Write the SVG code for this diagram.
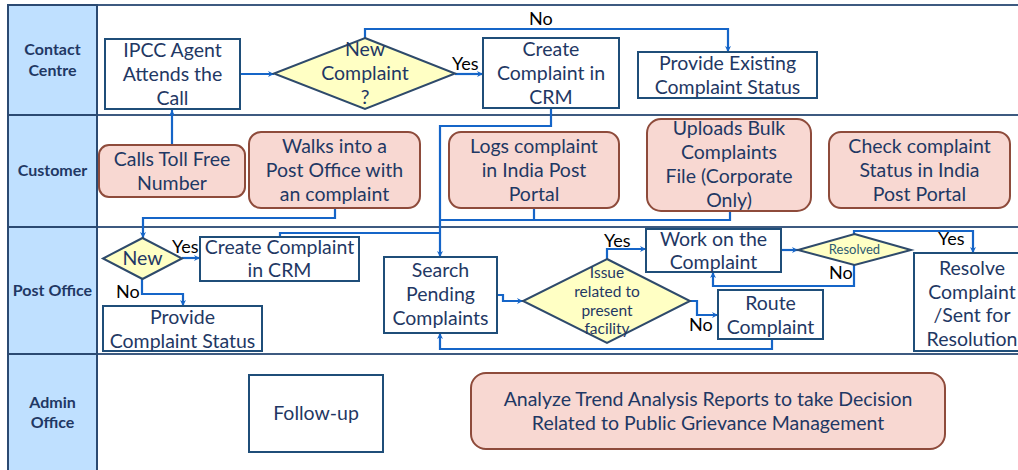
<svg xmlns="http://www.w3.org/2000/svg" width="1018" height="470" viewBox="0 0 1018 470">
  <style>
    .lane { fill: #ffffff; stroke: #3d5a80; stroke-width: 2; }
    .head { fill: #bfe0ff; stroke: #2b4a72; stroke-width: 2; }
    .lanetxt { font-family: Lato, "Liberation Sans", sans-serif; font-weight: bold; font-size: 16px; fill: #1f3864; text-anchor: middle; }
    .box { fill: #ffffff; stroke: #1f4e79; stroke-width: 2; }
    .cust { fill: #f8d8d2; stroke: #8e4b3b; stroke-width: 2; }
    .dia { fill: #ffffc4; stroke: #2e4a6b; stroke-width: 2; }
    .t { font-family: Lato, "Liberation Sans", sans-serif; font-size: 19.5px; fill: #1f3864; text-anchor: middle; }
    .ts { font-family: Lato, "Liberation Sans", sans-serif; font-size: 15.5px; fill: #1f3864; text-anchor: middle; }
    .tr { font-family: Lato, "Liberation Sans", sans-serif; font-size: 13px; fill: #2e5a70; text-anchor: middle; }
    .lbl { font-family: Lato, "Liberation Sans", sans-serif; font-size: 18px; fill: #000000; }
    .conn { fill: none; stroke: #1565c8; stroke-width: 2.2; }
    .arr { marker-end: url(#ah); }
  </style>
  <defs>
    <marker id="ah" viewBox="0 0 10 10" refX="10" refY="5" markerWidth="6" markerHeight="6" orient="auto" markerUnits="userSpaceOnUse">
      <path d="M0,0 L10,5 L0,10 L3,5 z" fill="#1565c8"/>
    </marker>
  </defs>

  <!-- swimlanes -->
  <g id="lanes">
    <rect class="lane" x="8" y="5" width="1020" height="110"/>
    <rect class="lane" x="8" y="115" width="1020" height="112"/>
    <rect class="lane" x="8" y="227" width="1020" height="127"/>
    <rect class="lane" x="8" y="354" width="1020" height="130"/>
    <rect class="head" x="8" y="5" width="89" height="479"/>
    <line x1="8" y1="115" x2="97" y2="115" stroke="#2b4a72" stroke-width="2"/>
    <line x1="8" y1="227" x2="97" y2="227" stroke="#2b4a72" stroke-width="2"/>
    <line x1="8" y1="354" x2="97" y2="354" stroke="#2b4a72" stroke-width="2"/>
    <text class="lanetxt" x="52.5" y="55">Contact</text>
    <text class="lanetxt" x="52.5" y="76">Centre</text>
    <text class="lanetxt" x="52.5" y="176">Customer</text>
    <text class="lanetxt" x="52.5" y="296">Post Office</text>
    <text class="lanetxt" x="52.5" y="408">Admin</text>
    <text class="lanetxt" x="52.5" y="428">Office</text>
  </g>

  <!-- connectors -->
  <g id="connectors">
    <path class="conn arr" d="M172,145 V110"/>
    <path class="conn arr" d="M240,74 H274"/>
    <path class="conn arr" d="M455,74 H483"/>
    <path class="conn arr" d="M365,38 V29 H728 V52"/>
    <path class="conn arr" d="M551,108 V126 H440 V257"/>
    <path class="conn" d="M534,208 V220 H440"/>
    <path class="conn" d="M730,211 V220 H534"/>
    <path class="conn arr" d="M335,208 V218 H143 V238"/>
    <path class="conn arr" d="M182,258 H200"/>
    <path class="conn arr" d="M142,279 V294 H183 V306"/>
    <path class="conn" d="M280,237 V233 H440"/>
    <path class="conn arr" d="M497,295 H503 V301 H523"/>
    <path class="conn arr" d="M607,259 V249 H646"/>
    <path class="conn arr" d="M781,250 H798"/>
    <path class="conn arr" d="M854,234 V231 H973 V253"/>
    <path class="conn arr" d="M854,265 V286 H713 V272"/>
    <path class="conn arr" d="M690,301 H697 V315 H718"/>
    <path class="conn arr" d="M772,339 V349 H440 V333"/>
    <text class="lbl" x="529" y="25">No</text>
    <text class="lbl" x="452" y="70">Yes</text>
    <text class="lbl" x="172" y="253">Yes</text>
    <text class="lbl" x="116" y="298">No</text>
    <text class="lbl" x="604" y="247">Yes</text>
    <text class="lbl" x="938" y="245">Yes</text>
    <text class="lbl" x="829" y="279">No</text>
    <text class="lbl" x="689" y="331">No</text>
  </g>

  <!-- Contact Centre -->
  <g id="ipcc-agent">
    <rect class="box" x="105" y="39" width="135" height="70"/>
    <text class="t" x="172.5" y="57">IPCC Agent</text>
    <text class="t" x="172.5" y="81">Attends the</text>
    <text class="t" x="172.5" y="105">Call</text>
  </g>
  <g id="new-complaint">
    <polygon class="dia" points="365,38 455,73.5 365,109 274,73.5"/>
    <text class="t" x="365" y="56">New</text>
    <text class="t" x="365" y="80">Complaint</text>
    <text class="t" x="365" y="104">?</text>
  </g>
  <g id="create-crm-cc">
    <rect class="box" x="483" y="38" width="136" height="70"/>
    <text class="t" x="551" y="56">Create</text>
    <text class="t" x="551" y="80">Complaint in</text>
    <text class="t" x="551" y="104">CRM</text>
  </g>
  <g id="existing-status">
    <rect class="box" x="638" y="52" width="179" height="46"/>
    <text class="t" x="727.5" y="70">Provide Existing</text>
    <text class="t" x="727.5" y="94">Complaint Status</text>
  </g>

  <!-- Customer -->
  <g id="toll-free">
    <rect class="cust" x="99" y="145" width="146" height="52" rx="10"/>
    <text class="t" x="172" y="166">Calls Toll Free</text>
    <text class="t" x="172" y="190">Number</text>
  </g>
  <g id="walk-in">
    <rect class="cust" x="249" y="132" width="171" height="76" rx="12"/>
    <text class="t" x="334.5" y="153">Walks into a</text>
    <text class="t" x="334.5" y="177">Post Office with</text>
    <text class="t" x="334.5" y="201">an complaint</text>
  </g>
  <g id="portal-log">
    <rect class="cust" x="449" y="132" width="170" height="76" rx="12"/>
    <text class="t" x="534" y="153">Logs complaint</text>
    <text class="t" x="534" y="177">in India Post</text>
    <text class="t" x="534" y="201">Portal</text>
  </g>
  <g id="bulk-upload">
    <rect class="cust" x="647" y="119" width="164" height="92" rx="14"/>
    <text class="t" x="729" y="135">Uploads Bulk</text>
    <text class="t" x="729" y="159">Complaints</text>
    <text class="t" x="729" y="183">File (Corporate</text>
    <text class="t" x="729" y="207">Only)</text>
  </g>
  <g id="check-status">
    <rect class="cust" x="829" y="132" width="181" height="76" rx="12"/>
    <text class="t" x="919.5" y="153">Check complaint</text>
    <text class="t" x="919.5" y="177">Status in India</text>
    <text class="t" x="919.5" y="201">Post Portal</text>
  </g>

  <!-- Post Office -->
  <g id="new-po">
    <polygon class="dia" points="142.5,238 182,258.5 142.5,279 103,258.5"/>
    <text class="t" x="142.5" y="265">New</text>
  </g>
  <g id="create-crm-po">
    <rect class="box" x="200" y="237" width="159" height="44"/>
    <text class="t" x="279.5" y="254">Create Complaint</text>
    <text class="t" x="279.5" y="277">in CRM</text>
  </g>
  <g id="provide-status">
    <rect class="box" x="103" y="306" width="159" height="45"/>
    <text class="t" x="182.5" y="324">Provide</text>
    <text class="t" x="182.5" y="348">Complaint Status</text>
  </g>
  <g id="search-pending">
    <rect class="box" x="384" y="257" width="113" height="76"/>
    <text class="t" x="440.5" y="277">Search</text>
    <text class="t" x="440.5" y="301">Pending</text>
    <text class="t" x="440.5" y="325">Complaints</text>
  </g>
  <g id="issue-facility">
    <polygon class="dia" points="607,259 690,301 607,343 523,301"/>
    <text class="ts" x="607" y="278">Issue</text>
    <text class="ts" x="607" y="297">related to</text>
    <text class="ts" x="607" y="316">present</text>
    <text class="ts" x="607" y="334">facility</text>
  </g>
  <g id="work-on">
    <rect class="box" x="646" y="229" width="135" height="43"/>
    <text class="t" x="713.5" y="246">Work on the</text>
    <text class="t" x="713.5" y="269">Complaint</text>
  </g>
  <g id="resolved">
    <polygon class="dia" points="854.5,234 911,250 854.5,265 798,250"/>
    <text class="tr" x="854.5" y="254">Resolved</text>
  </g>
  <g id="resolve-complaint">
    <rect class="box" x="914" y="253" width="110" height="98"/>
    <text class="t" x="972" y="275">Resolve</text>
    <text class="t" x="972" y="299">Complaint</text>
    <text class="t" x="972" y="322">/Sent for</text>
    <text class="t" x="972" y="346">Resolution</text>
  </g>
  <g id="route-complaint">
    <rect class="box" x="718" y="290" width="105" height="49"/>
    <text class="t" x="770.5" y="310">Route</text>
    <text class="t" x="770.5" y="334">Complaint</text>
  </g>

  <!-- Admin Office -->
  <g id="follow-up">
    <rect class="box" x="249" y="375" width="134" height="77"/>
    <text class="t" x="316" y="420">Follow-up</text>
  </g>
  <g id="trend-analysis">
    <rect class="cust" x="471" y="373" width="474" height="76" rx="15"/>
    <text class="t" x="708" y="406">Analyze Trend Analysis Reports to take Decision</text>
    <text class="t" x="708" y="430">Related to Public Grievance Management</text>
  </g>
</svg>
